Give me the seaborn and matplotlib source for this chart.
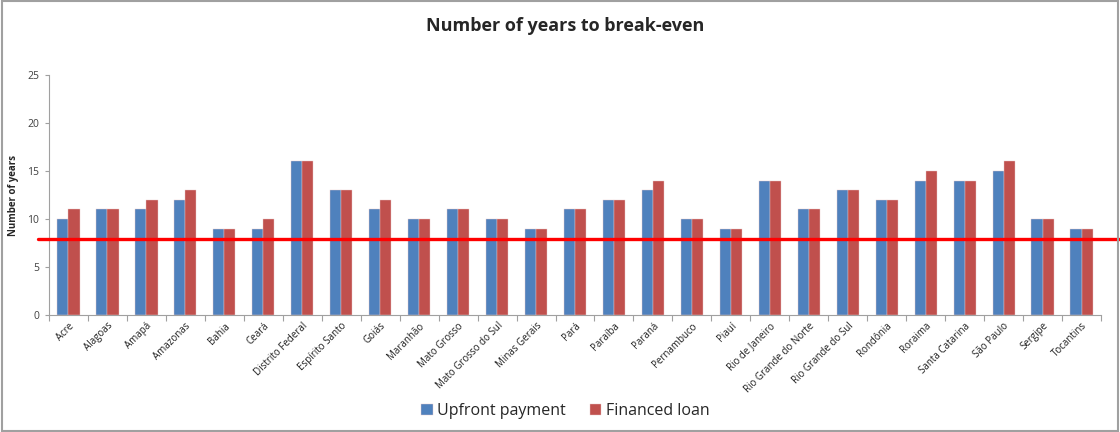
import matplotlib
matplotlib.use("Agg")
import matplotlib.pyplot as plt
import matplotlib.transforms as mtransforms
from matplotlib.patches import Rectangle
import numpy as np
import pandas as pd
import seaborn as sns

states = ["Acre", "Alagoas", "Amapá", "Amazonas", "Bahia", "Ceará", "Distrito Federal",
          "Espírito Santo", "Goiás", "Maranhão", "Mato Grosso", "Mato Grosso do Sul",
          "Minas Gerais", "Pará", "Paraíba", "Paraná", "Pernambuco", "Piauí",
          "Rio de Janeiro", "Rio Grande do Norte", "Rio Grande do Sul", "Rondônia",
          "Roraima", "Santa Catarina", "São Paulo", "Sergipe", "Tocantins"]
upfront = [10, 11, 11, 12, 9, 9, 16, 13, 11, 10, 11, 10, 9, 11, 12, 13, 10, 9, 14, 11, 13, 12, 14, 14, 15, 10, 9]
financed = [11, 11, 12, 13, 9, 10, 16, 13, 12, 10, 11, 10, 9, 11, 12, 14, 10, 9, 14, 11, 13, 12, 15, 14, 16, 10, 9]
series_names = ["Upfront payment", "Financed loan"]
threshold = 7.9
yticks = [0, 5, 10, 15, 20, 25]

sns.set_theme(style="white")
plt.rcParams["font.family"] = ["Open Sans", "DejaVu Sans"]

df = pd.DataFrame({
    "State": states * 2,
    "Years": upfront + financed,
    "Series": [series_names[0]] * len(states) + [series_names[1]] * len(states),
})

fig = plt.figure(figsize=(11.2, 4.32), dpi=100)
ax = fig.add_axes([0.04375, 0.2708, 0.9393, 0.5556])

sns.barplot(data=df, x="State", y="Years", hue="Series", hue_order=series_names,
            palette=["#4F81BD", "#C0504D"], width=0.57, saturation=1,
            edgecolor="#e8c8c8", linewidth=0.3, ax=ax, legend=True)

ax.set_ylim(0, 25)
ax.set_xlim(-0.5, len(states) - 0.5)
ax.set_yticks(yticks)
ax.set_yticklabels([str(t) for t in yticks], fontsize=7.5, color="#404040")
ax.set_xticks(range(len(states)))
ax.set_xticklabels(states, rotation=45, ha="right", rotation_mode="anchor", fontsize=7, color="#202020")
ax.tick_params(axis="x", which="major", length=0, pad=4)
ax.set_xticks(np.arange(-0.5, len(states), 1), minor=True)
ax.tick_params(axis="x", which="minor", length=4, color="#a0a0a0", width=0.8, bottom=True)
ax.tick_params(axis="y", length=3, color="#a0a0a0", width=0.8, left=True, pad=4)
ax.set_xlabel("")
ax.set_ylabel("Number of years", fontsize=7, fontweight="bold", labelpad=6)
for s in ["top", "right"]:
    ax.spines[s].set_visible(False)
for s in ["left", "bottom"]:
    ax.spines[s].set_color("#a0a0a0")
    ax.spines[s].set_linewidth(0.8)

trans = mtransforms.blended_transform_factory(ax.transAxes, ax.transData)
ax.plot([-0.01, 1.02], [threshold, threshold], color="#FF0000", lw=2.4, transform=trans, clip_on=False, zorder=5)

fig.suptitle("Number of years to break-even", x=0.505, y=0.96, fontsize=13, fontweight="bold")

handles, labels = ax.get_legend_handles_labels()
ax.legend_.remove()
fig.legend(handles, labels, loc="center", bbox_to_anchor=(0.505, 0.048), ncol=2, frameon=False,
           fontsize=11.5, handlelength=0.7, handleheight=0.7, handletextpad=0.3, columnspacing=1.5)

fig.patches.append(Rectangle((0.002, 0.003), 0.996, 0.994, transform=fig.transFigure, fill=False,
                             edgecolor="#a0a0a0", linewidth=1.5))

fig.savefig("out.png", dpi=100, facecolor="white")
